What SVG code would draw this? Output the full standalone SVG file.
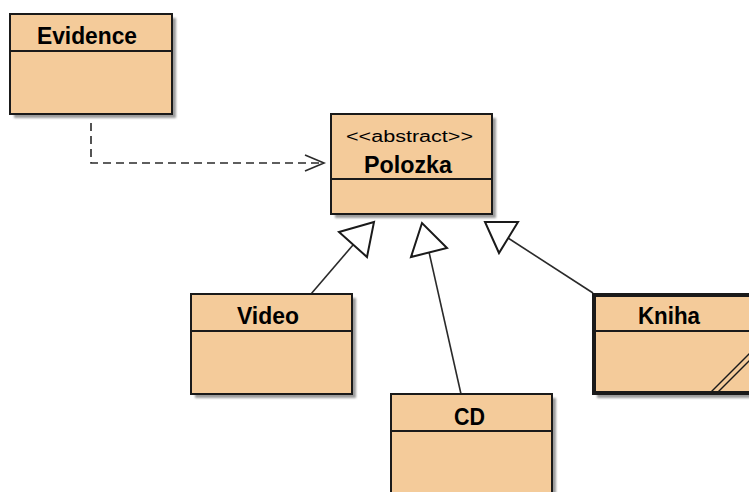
<svg xmlns="http://www.w3.org/2000/svg" width="749" height="492" viewBox="0 0 749 492">
  <defs>
    <filter id="sh" x="-10%" y="-10%" width="130%" height="130%">
      <feGaussianBlur stdDeviation="1.2"/>
    </filter>
    <style>
      .shadow { fill: #7a7a7a; opacity: 0.75; filter: url(#sh); }
      .box { fill: #F4CB9A; stroke: #1a1a1a; stroke-width: 2; }
      .thick { stroke-width: 4; }
      .div { stroke: #1a1a1a; stroke-width: 2; }
      .title { font-family: "Liberation Sans", Arial, sans-serif; font-weight: bold; font-size: 23px; fill: #000; text-anchor: middle; }
      .stereo { font-family: "Liberation Sans", Arial, sans-serif; font-size: 16px; fill: #000; text-anchor: middle; }
      .conn { fill: none; stroke: #2a2a2a; stroke-width: 1.6; }
      .dash { stroke-dasharray: 8 5; }
      .tri { fill: #fff; stroke: #1a1a1a; stroke-width: 2; stroke-linejoin: miter; }
    </style>
  </defs>
  <rect width="749" height="492" fill="#fff"/>

  <g id="connectors">
    <path class="conn dash" d="M91,123 V163 H323"/>
    <path class="conn" d="M305,155 L324,163 L305,171"/>
    <line class="conn" x1="311" y1="294" x2="353" y2="245"/>
    <polygon class="tri" points="374,222 339,232 367,257"/>
    <line class="conn" x1="461" y1="394" x2="429" y2="252"/>
    <polygon class="tri" points="422,223 411,257 447,248"/>
    <line class="conn" x1="593" y1="293" x2="508" y2="238"/>
    <polygon class="tri" points="485,222 518,222 499,253"/>
  </g>

  <g id="Evidence">
    <rect class="shadow" x="14" y="18" width="162" height="100"/>
    <rect class="box" x="10" y="14" width="162" height="100"/>
    <line class="div" x1="10" y1="51" x2="172" y2="51"/>
    <text class="title" x="87" y="44" textLength="100" lengthAdjust="spacingAndGlyphs">Evidence</text>
  </g>

  <g id="Polozka">
    <rect class="shadow" x="335" y="118" width="161" height="100"/>
    <rect class="box" x="331" y="114" width="161" height="100"/>
    <line class="div" x1="331" y1="179" x2="492" y2="179"/>
    <text class="stereo" x="409.5" y="142" textLength="127" lengthAdjust="spacingAndGlyphs">&lt;&lt;abstract&gt;&gt;</text>
    <text class="title" x="408" y="173" textLength="88" lengthAdjust="spacingAndGlyphs">Polozka</text>
  </g>

  <g id="Video">
    <rect class="shadow" x="195" y="298" width="161" height="100"/>
    <rect class="box" x="191" y="294" width="161" height="100"/>
    <line class="div" x1="191" y1="331" x2="352" y2="331"/>
    <text class="title" x="268" y="324" textLength="62" lengthAdjust="spacingAndGlyphs">Video</text>
  </g>

  <g id="Kniha">
    <rect class="shadow" x="597" y="298" width="161" height="100"/>
    <rect class="box thick" x="594" y="295" width="161" height="98"/>
    <line class="div" x1="594" y1="331" x2="755" y2="331"/>
    <text class="title" x="669" y="324" textLength="62" lengthAdjust="spacingAndGlyphs">Kniha</text>
    <line class="div" x1="711" y1="392" x2="750" y2="353" style="stroke-width:1.5"/>
    <line class="div" x1="718" y1="392" x2="753" y2="357" style="stroke-width:1.5"/>
  </g>

  <g id="CD">
    <rect class="shadow" x="395" y="398" width="161" height="100"/>
    <rect class="box" x="391" y="394" width="161" height="100"/>
    <line class="div" x1="391" y1="431" x2="552" y2="431"/>
    <text class="title" x="469.5" y="425" textLength="31" lengthAdjust="spacingAndGlyphs">CD</text>
  </g>
</svg>
